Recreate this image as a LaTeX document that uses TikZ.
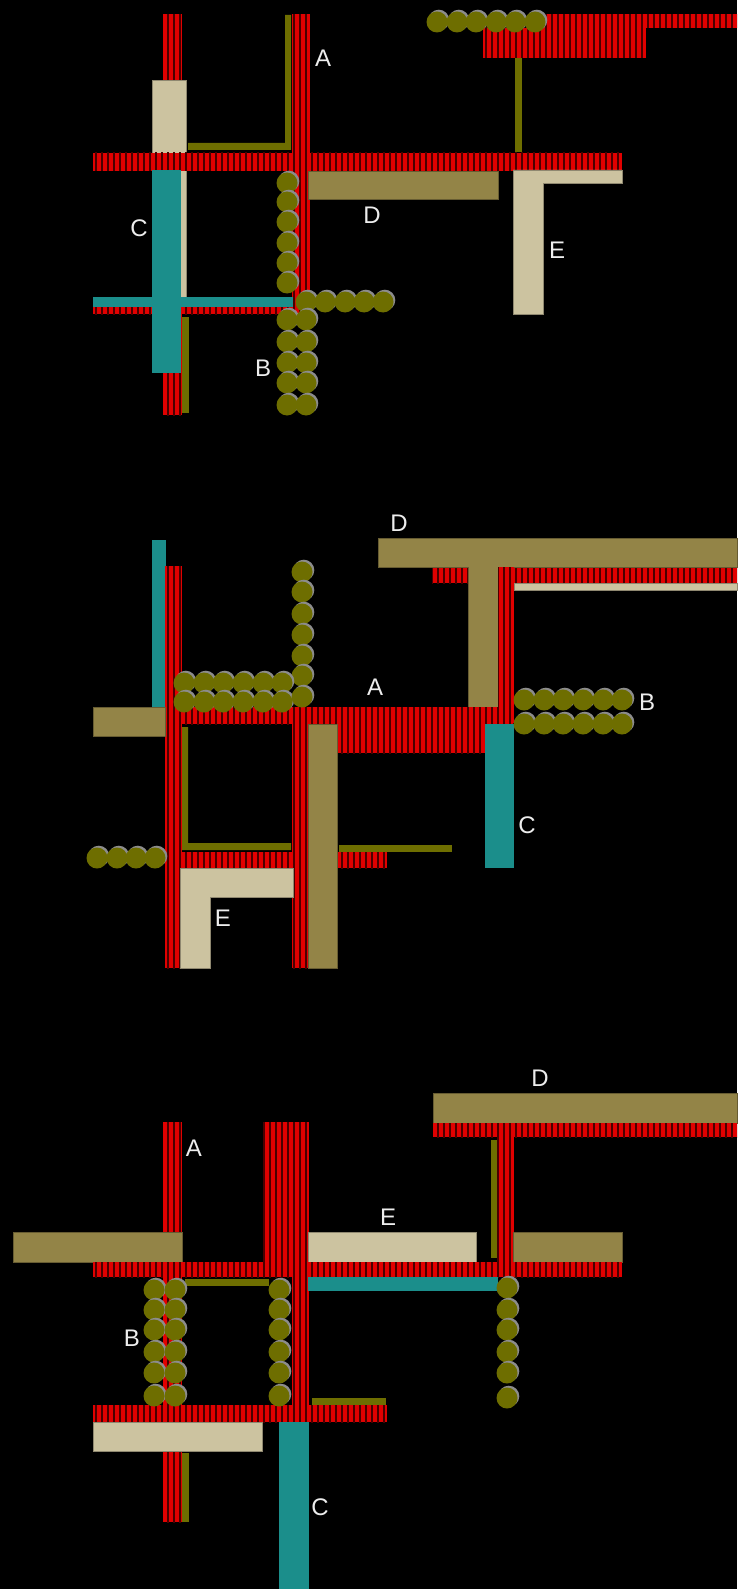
\documentclass[tikz,border=0pt]{standalone}
\usepackage{fontspec}
\setmainfont{Liberation Sans}
\usetikzlibrary{patterns.meta}
\definecolor{redc}{HTML}{E10000}
\definecolor{stripe}{HTML}{4A0000}
\definecolor{tanc}{HTML}{938447}
\definecolor{beigec}{HTML}{CCC3A0}
\definecolor{tealc}{HTML}{1B8E8B}
\definecolor{olivec}{HTML}{6E6E00}
\definecolor{beadhi}{HTML}{8C8C8C}
\definecolor{labelc}{HTML}{EDEDED}
\tikzset{
  redbar/.style={fill=redc, postaction={pattern={Lines[angle=90,distance=6pt,line width=1.4pt]}, pattern color=stripe}},
  tanbar/.style={fill=tanc, draw=tanc!70!black, line width=0.5pt},
  beigebar/.style={fill=beigec, draw=beigec!70!black, line width=0.5pt},
  tealbar/.style={fill=tealc},
  oliveline/.style={fill=olivec},
  lbl/.style={text=labelc, font=\fontsize{24}{24}\selectfont, inner sep=0pt, anchor=center}
}
\newcommand\beads[1]{\foreach \bx/\by in {#1}{\fill[beadhi] (\bx+1.8,\by-1.8) circle[radius=10.5pt]; \fill[olivec] (\bx,\by) circle[radius=10.5pt];}}
\begin{document}
\begin{tikzpicture}[x=1pt,y=-1pt]
\fill[black] (0,0) rectangle (737,1589);
\path[use as bounding box] (0,0) rectangle (737,1589);
% ===== Section 1 =====
\fill[redbar] (163,14) rectangle (182,415);
\fill[redbar] (292,14) rectangle (310,300);
\fill[oliveline] (285,15) -- (291,15) -- (291,150) -- (188,150) -- (188,143) -- (285,143) -- cycle;
\fill[beigebar] (152,80) rectangle (186,298);
\fill[redbar] (93,153) rectangle (622,171);
\fill[redbar] (93,297) rectangle (300,314);
\fill[tealbar] (93,297) rectangle (293,307);
\fill[tealbar] (152,170) rectangle (181,373);
\fill[oliveline] (182,317) rectangle (189,413);
\fill[tanbar] (308,171) rectangle (498,199);
\fill[redbar] (483,28) rectangle (646,58);
\fill[redbar] (530,14) rectangle (737,28);
\fill[oliveline] (515,58) rectangle (522,152);
\fill[beigebar] (513,170) -- (622,170) -- (622,183) -- (543,183) -- (543,314) -- (513,314) -- cycle;
\beads{437/22,457/22,476/22,496/22,515/22,535/22}
\beads{287/183,287/202,287/222,287/243,287/263,287/283}
\beads{306/302,325/302,345/302,364/302,383/302}
\beads{287/320,306/320,287/342,306/342,287/363,306/363,287/383,306/383,287/405,306/405}
\node[lbl] (A1) at (323,58) {A};
\node[lbl] (B1) at (263,368) {B};
\node[lbl] (C1) at (139,228) {C};
\node[lbl] (D1) at (372,215) {D};
\node[lbl] (E1) at (557,250) {E};
% ===== Section 2 =====
\fill[redbar] (432,567) rectangle (737,583);
\fill[beigebar] (514,583) rectangle (737,590);
\fill[tanbar] (378,538) -- (737,538) -- (737,567) -- (498,567) -- (498,707) -- (468,707) -- (468,567) -- (378,567) -- cycle;
\fill[redbar] (498,567) rectangle (514,723);
\fill[tealbar] (152,540) rectangle (166,707);
\fill[redbar] (165,566) rectangle (182,968);
\fill[redbar] (292,707) rectangle (308,968);
\fill[redbar] (165,707) rectangle (513,724);
\fill[redbar] (337,724) rectangle (487,753);
\fill[tanbar] (93,707) rectangle (165,736);
\fill[oliveline] (182,727) -- (188,727) -- (188,843) -- (291,843) -- (291,850) -- (182,850) -- cycle;
\fill[redbar] (165,852) rectangle (387,868);
\fill[tanbar] (308,724) rectangle (337,968);
\fill[oliveline] (339,845) rectangle (452,852);
\fill[tealbar] (485,724) rectangle (514,868);
\fill[beigebar] (180,868) -- (293,868) -- (293,897) -- (210,897) -- (210,968) -- (180,968) -- cycle;
\beads{97/858,117/858,136/858,155/858}
\beads{302/572,302/592,302/614,302/635,302/656,302/676}
\beads{184/683,204/683,223/683,243/683,263/683,282/683,184/702,204/702,223/702,243/702,263/702,282/702,302/697}
\beads{524/700,544/700,563/700,583/700,603/700,622/700,524/724,544/724,563/724,583/724,603/724,622/724}
\node[lbl] (A2) at (375,687) {A};
\node[lbl] (B2) at (647,702) {B};
\node[lbl] (C2) at (527,825) {C};
\node[lbl] (D2) at (399,523) {D};
\node[lbl] (E2) at (223,918) {E};
% ===== Section 3 =====
\fill[tanbar] (433,1093) rectangle (737,1123);
\fill[redbar] (433,1123) rectangle (737,1137);
\fill[redbar] (497,1123) rectangle (514,1277);
\fill[oliveline] (491,1140) rectangle (497,1258);
\fill[redbar] (163,1122) rectangle (182,1522);
\fill[redbar] (263,1122) rectangle (309,1262);
\fill[redbar] (292,1262) rectangle (309,1422);
\fill[tanbar] (13,1232) rectangle (182,1262);
\fill[beigebar] (308,1232) rectangle (476,1262);
\fill[tanbar] (513,1232) rectangle (622,1262);
\fill[redbar] (93,1262) rectangle (622,1277);
\fill[tealbar] (308,1277) rectangle (498,1291);
\fill[oliveline] (185,1279) rectangle (269,1286);
\fill[redbar] (93,1405) rectangle (387,1422);
\fill[oliveline] (312,1398) rectangle (386,1405);
\fill[beigebar] (93,1422) rectangle (262,1451);
\fill[oliveline] (182,1453) rectangle (189,1522);
\fill[tealbar] (279,1422) rectangle (309,1589);
\beads{154/1290,175/1290,154/1310,175/1310,154/1330,175/1330,154/1352,175/1352,154/1373,175/1373,154/1396,175/1396}
\beads{279/1290,279/1310,279/1330,279/1352,279/1373,279/1396}
\beads{507/1288,507/1310,507/1330,507/1352,507/1373,507/1398}
\node[lbl] (A3) at (194,1148) {A};
\node[lbl] (B3) at (132,1338) {B};
\node[lbl] (C3) at (320,1507) {C};
\node[lbl] (D3) at (540,1078) {D};
\node[lbl] (E3) at (388,1217) {E};
\end{tikzpicture}
\end{document}
